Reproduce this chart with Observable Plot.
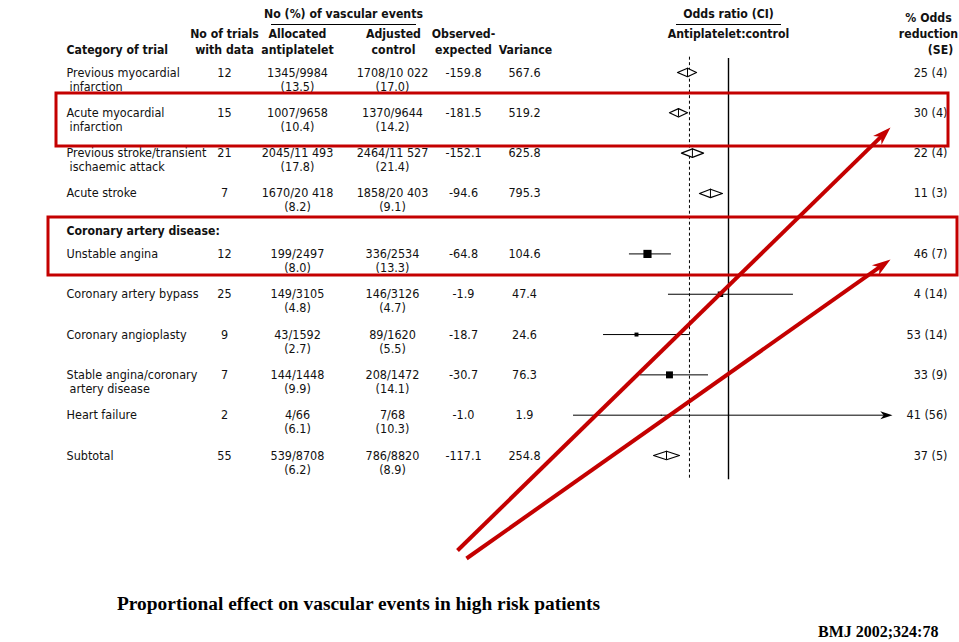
<!DOCTYPE html>
<html><head><meta charset="utf-8">
<script src="https://cdn.jsdelivr.net/npm/d3@7"></script>
<script src="https://cdn.jsdelivr.net/npm/@observablehq/plot@0.6"></script>
<style>
body{margin:0;background:#fff;}
#wrap{position:relative;width:959px;height:642px;overflow:hidden;background:#fff}
#wrap svg{position:absolute;left:0;top:0;background:transparent}
.cap{position:absolute;font-family:"Liberation Serif","Times New Roman",serif;font-weight:bold;color:#000;white-space:nowrap;line-height:1}
</style></head><body>
<div id="wrap"></div>
<script>
// ---------- data ----------
const categories1 = ["Previous myocardial","Acute myocardial","Previous stroke/transient","Acute stroke","Unstable angina","Coronary artery bypass","Coronary angioplasty","Stable angina/coronary","Heart failure","Subtotal"];
const categories2 = ["infarction","infarction","ischaemic attack","","","","","artery disease","",""];
const groupHeader = "Coronary artery disease:";
const nTrials = [12,15,21,7,12,25,9,7,2,55];
const antiplatelet = ["1345/9984","1007/9658","2045/11 493","1670/20 418","199/2497","149/3105","43/1592","144/1448","4/66","539/8708"];
const antiplateletPct = ["(13.5)","(10.4)","(17.8)","(8.2)","(8.0)","(4.8)","(2.7)","(9.9)","(6.1)","(6.2)"];
const control = ["1708/10 022","1370/9644","2464/11 527","1858/20 403","336/2534","146/3126","89/1620","208/1472","7/68","786/8820"];
const controlPct = ["(17.0)","(14.2)","(21.4)","(9.1)","(13.3)","(4.7)","(5.5)","(14.1)","(10.3)","(8.9)"];
const obsExp = ["-159.8","-181.5","-152.1","-94.6","-64.8","-1.9","-18.7","-30.7","-1.0","-117.1"];
const variance = [567.6,519.2,625.8,795.3,104.6,47.4,24.6,76.3,1.9,254.8];
const oddsReduction = ["25 (4)","30 (4)","22 (4)","11 (3)","46 (7)","4 (14)","53 (14)","33 (9)","41 (56)","37 (5)"];
const orEst = [0.75,0.695,0.78,0.89,0.506,0.951,0.439,0.64,0.59,0.622];
const orLo  = [0.689,0.64,0.713,0.823,0.396,0.634,0.238,0.463,0.055,0.543];
const orHi  = [0.805,0.75,0.848,0.963,0.652,1.396,0.762,0.878,2.0,0.701];
const isSummary = [true,true,true,true,false,false,false,false,false,true];
const overallOR = 0.762;
const axisMax = 2;

const headerTexts = ["No (%) of vascular events","Category of trial","No of trials","with data","Allocated","antiplatelet","Adjusted","control","Observed-","expected","Variance","Odds ratio (CI)","Antiplatelet:control","% Odds","reduction","(SE)"];
const captionTitle = "Proportional effect on vascular events in high risk patients";
const captionSource = "BMJ 2002;324:78";

// ---------- layout (positions/styles) ----------
const W = 959, H = 642, TH = 480;
const FONT = '"Liberation Sans Narrow","Arial Narrow","DejaVu Sans Condensed",sans-serif';
const FS = 12.5;
const COL = {cat: 66, trials: 224, anti: 297, ctrl: 392, oe: 463, vari: 524, red: 947};
const slotOf = i => i < 4 ? i : i + 0.5;
const yScale = {domain: [0, 9.5], range: [72, 455]};
const LINE2 = 14;

const rows = categories1.map((c, i) => ({
  i, slot: slotOf(i), cat1: c, cat2: categories2[i], n: String(nTrials[i]),
  anti: antiplatelet[i], antiPct: antiplateletPct[i], ctrl: control[i], ctrlPct: controlPct[i],
  oe: obsExp[i], vari: variance[i].toFixed(1), red: oddsReduction[i],
  est: orEst[i], lo: orLo[i], hi: orHi[i], summary: isSummary[i], v: variance[i]
}));

const txt = (data, opts) => Plot.text(data, {fontFamily: FONT, fontSize: FS, fill: "#111", lineAnchor: "middle", ...opts});

// ---------- table plot ----------
const table = Plot.plot({
  width: W, height: TH, margin: 0,
  x: {type: "identity"}, y: yScale, axis: null,
  marks: [
    txt(rows, {x: COL.cat, y: "slot", text: "cat1", textAnchor: "start"}),
    txt(rows, {x: COL.cat, y: "slot", text: "cat2", textAnchor: "start", dy: LINE2, dx: 3}),
    txt(rows, {x: COL.trials, y: "slot", text: "n"}),
    txt(rows, {x: COL.anti, y: "slot", text: "anti"}),
    txt(rows, {x: COL.anti, y: "slot", text: "antiPct", dy: LINE2}),
    txt(rows, {x: COL.ctrl, y: "slot", text: "ctrl"}),
    txt(rows, {x: COL.ctrl, y: "slot", text: "ctrlPct", dy: LINE2}),
    txt(rows, {x: COL.oe, y: "slot", text: "oe"}),
    txt(rows, {x: COL.vari, y: "slot", text: "vari"}),
    txt(rows, {x: COL.red, y: "slot", text: "red", textAnchor: "end"})
  ]
});

// ---------- forest plot ----------
const H_D = 0.105;
const diamonds = rows.filter(d => d.summary).flatMap(d => [
  {z: d.i, x: d.lo, y: d.slot}, {z: d.i, x: d.est, y: d.slot - H_D},
  {z: d.i, x: d.hi, y: d.slot}, {z: d.i, x: d.est, y: d.slot + H_D}
]);
const trials = rows.filter(d => !d.summary);
const headSym = {draw(ctx, size) {
  const s = Math.sqrt(size), L = s * 1.6, Wd = s * 1.05;
  ctx.moveTo(0, 0); ctx.lineTo(-L, -Wd / 2); ctx.lineTo(-L * 0.72, 0); ctx.lineTo(-L, Wd / 2); ctx.closePath();
}};
const forest = Plot.plot({
  width: W, height: TH, margin: 0,
  x: {domain: [0, axisMax], range: [564, 892]}, y: yScale, axis: null,
  r: {type: "sqrt", domain: [0, 104.6], range: [0, 4.6]},
  marks: [
    Plot.ruleX([1], {y1: -0.35, y2: 10.1, stroke: "#000", strokeWidth: 1.4}),
    Plot.ruleX([overallOR], {y1: -0.38, y2: 10.1, stroke: "#000", strokeWidth: 1, strokeDasharray: "3,2.5"}),
    Plot.ruleY(trials, {y: "slot", x1: "lo", x2: d => Math.min(d.hi, axisMax - 0.03), stroke: "#000", strokeWidth: 1}),
    Plot.dot(trials, {x: "est", y: "slot", r: "v", symbol: "square", fill: "#000", stroke: null}),
    Plot.dot(trials.filter(d => d.hi >= axisMax), {x: axisMax, y: "slot", r: 4.3, symbol: headSym, fill: "#000", stroke: null}),
    Plot.line(diamonds, {x: "x", y: "y", z: "z", curve: "linear-closed", fill: "#fff", stroke: "#000", strokeWidth: 1.2}),
    Plot.ruleX(rows.filter(d => d.summary), {x: "est", y1: d => d.slot - H_D, y2: d => d.slot + H_D, stroke: "#000", strokeWidth: 1})
  ]
});

// ---------- headers + annotations (pixel layout) ----------
const headerPos = [
  [343,14,"middle"],[66,50,"start"],[224,34,"middle"],[224,50,"middle"],[297,34,"middle"],[297,50,"middle"],
  [393,34,"middle"],[393,50,"middle"],[463,34,"middle"],[463,50,"middle"],[525,50,"middle"],
  [728,14,"middle"],[728,34,"middle"],[928,18,"middle"],[928,34,"middle"],[940,50,"middle"]
];
const headers = headerTexts.map((t, k) => ({t, x: headerPos[k][0], y: headerPos[k][1], a: headerPos[k][2]}));
headers.push({t: groupHeader, x: COL.cat, y: 231, a: "start"});
const underlines = [{x1: 271, x2: 416, y: 24}, {x1: 676, x2: 781, y: 24}];
const boxes = [{x1: 56, x2: 948, y1: 93, y2: 146}, {x1: 48, x2: 957, y1: 217, y2: 275}];
const arrows = [{x1: 457, y1: 550, x2: 890, y2: 127}, {x1: 466, y1: 558, x2: 890, y2: 259}].map(a => {
  const dx = a.x2 - a.x1, dy = a.y2 - a.y1, len = Math.hypot(dx, dy);
  return {...a, ang: Math.atan2(dy, dx) * 180 / Math.PI, ex: a.x2 - dx / len * 12, ey: a.y2 - dy / len * 12};
});
const RED = "#c40000";
const hdr = (anchor) => Plot.text(headers.filter(h => h.a === anchor), {x: "x", y: "y", text: "t", textAnchor: anchor, fontFamily: FONT, fontSize: 12.2, fontWeight: "bold", fill: "#111", lineAnchor: "middle"});
const annot = Plot.plot({
  width: W, height: H, margin: 0,
  x: {type: "identity"}, y: {type: "identity"}, axis: null,
  marks: [
    hdr("start"), hdr("middle"),
    Plot.ruleY(underlines, {x1: "x1", x2: "x2", y: "y", stroke: "#000", strokeWidth: 1.2}),
    Plot.rect(boxes, {x1: "x1", x2: "x2", y1: "y1", y2: "y2", fill: "none", stroke: RED, strokeWidth: 3}),
    Plot.link(arrows, {x1: "x1", y1: "y1", x2: "ex", y2: "ey", stroke: RED, strokeWidth: 4}),
    Plot.dot(arrows, {x: "x2", y: "y2", rotate: "ang", r: 6.5, symbol: headSym, fill: RED, stroke: null})
  ]
});

const wrap = document.getElementById("wrap");
wrap.append(table, forest, annot);
const t1 = document.createElement("div");
t1.className = "cap"; t1.textContent = captionTitle;
Object.assign(t1.style, {left: "117px", top: "594px", fontSize: "19.4px"});
const t2 = document.createElement("div");
t2.className = "cap"; t2.textContent = captionSource;
Object.assign(t2.style, {left: "818px", top: "624px", fontSize: "16px"});
wrap.append(t1, t2);
</script>
</body></html>
